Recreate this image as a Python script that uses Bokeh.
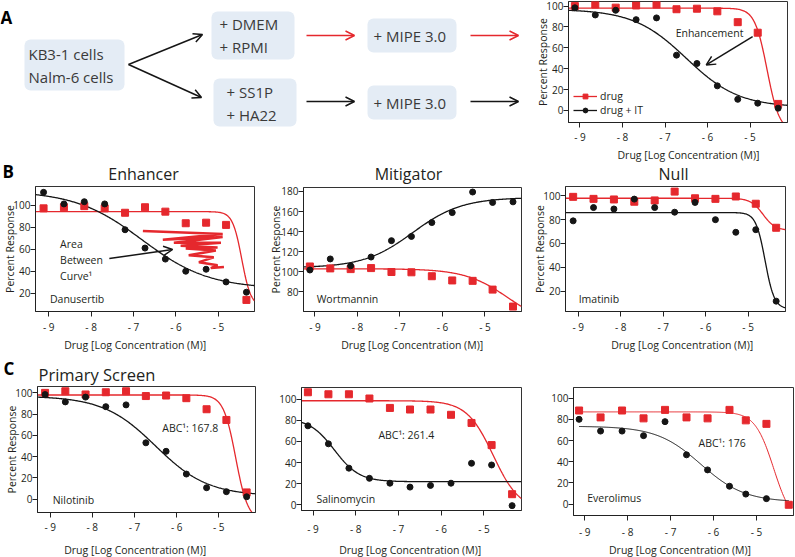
import numpy as np
from bokeh.plotting import figure
from bokeh.layouts import column, row
from bokeh.models import (Range1d, FixedTicker, Arrow, OpenHead, Label, BoxAnnotation,
                          Legend, LegendItem, CustomJSTickFormatter)
from bokeh.embed import file_html
from bokeh.resources import INLINE

# ------------------------------------------------------------------ data
LOGC = [-9.12, -8.64, -8.16, -7.68, -7.2, -6.73, -6.25, -5.77, -5.29, -4.82, -4.34]
LOGC_EVE = [-9.13, -8.63, -8.13, -7.63, -7.13, -6.63, -6.14, -5.63, -5.25, -4.77, -4.25]
X_TICKS = [-9, -8, -7, -6, -5]

nilo_drug = [100, 101.5, 98.5, 100.6, 101.5, 97, 97.5, 95, 84.6, 74.5, 6.3]
nilo_drug_it = [98.4, 91.5, 96, 87, 88.7, 53, 45, 23.6, 10.7, 7, 2.2]
danu_drug = [97, 98, 99, 97, 93, 98, 94, 83.5, 84, 82, 14]
danu_drug_it = [111.5, 101, 103, 101, 77.6, 61, 51, 40, 41.8, 30.3, 21]
wort_drug = [105.3, 103.4, 102.7, 103.7, 99.8, 99.5, 95.6, 91.4, 91, 82.3, 65.4]
wort_drug_it = [101.8, 112.8, 106, 114.7, 131, 135.2, 149, 158.9, 179.4, 169, 169.6]
imat_drug = [99.2, 97.5, 97, 95.1, 96.2, 103.6, 98, 97.5, 99.5, 93.4, 73.2]
imat_drug_it = [79, 90.2, 89, 97.3, 90.2, 86.3, 94.5, 80, 69.4, 71.6, 11.5]
sali_drug = [106.5, 104.6, 104.6, 100.6, 91.7, 90.2, 90.2, 85.2, 77.5, 56.6, 10.2]
sali_drug_it = [74.8, 57.8, 34.8, 25.2, 20.6, 16.9, 18.5, 20.6, 39.4, 37.8, -0.6]
ever_drug = [88.3, 81.8, 88.3, 80.9, 88.9, 81.8, 80.9, 88.9, 79, 75.7, -0.6]
ever_drug_it = [80, 68.9, 68.9, 64.6, 77.8, 46.5, 32.3, 16.9, 9.5, 5.2]

# Hill fits: [left plateau, right plateau, logEC50, slope]
nilo_fit_drug = [98, -20, -4.6, 3.0]
nilo_fit_drug_it = [97, 3, -6.5, 0.7]
danu_fit_drug = [94, 8, -4.45, 4.0]
danu_fit_drug_it = [113, 24, -6.8, 0.55]
wort_fit_drug = [103, 45, -4.45, 0.85]
wort_fit_drug_it = [104, 174, -6.7, 0.75]
imat_fit_drug = [98, 71, -4.65, 3.0]
imat_fit_drug_it = [86, 5, -4.6, 4.0]
sali_fit_drug = [98.5, -5, -4.78, 1.4]
sali_fit_drug_it = [82, 22, -8.5, 1.49]
ever_fit_drug = [87, -20, -4.6, 2.0]
ever_fit_drug_it = [73.5, 2, -6.3, 0.85]

# hand-drawn "area between curves" scribble (Danusertib data units)
scribble_x = [-6.78, -4.90, -6.31, -4.90, -6.05, -4.94, -5.89, -5.02, -5.77, -5.06,
              -5.70, -5.11, -5.46, -5.02, -5.18, -4.87]
scribble_y = [76.4, 73.8, 68.5, 71.1, 65.8, 65.8, 63.2, 61.4, 60.5, 58.8,
              54.4, 52.6, 48.2, 45.5, 42.9, 43.8]

# ------------------------------------------------------------------ style
FONT = "Open Sans"
RED = "#e5282d"
BLACK = "#151515"
TXT = "#231f20"
BOX = "#e4ecf5"
X_LABEL = "Drug [Log Concentration (M)]"
Y_LABEL = "Percent Response"


def hill(x, p):
    a, b, ec, h = p
    return b + (a - b) / (1 + 10 ** ((x - ec) * h))


def strip(x0, x1, y0, y1):
    """Plain drawing area addressed in page pixels (page y is stored as -y)."""
    s = figure(width=x1 - x0, height=y1 - y0, x_range=Range1d(x0, x1),
               y_range=Range1d(-y1, -y0), toolbar_location=None, output_backend="svg",
               min_border=0, title=None)
    s.axis.visible = False
    s.grid.visible = False
    s.outline_line_color = None
    return s


def stext(s, x, y, text, size="10.5px", align="left", style="normal", color=TXT):
    s.add_layout(Label(x=x, y=-y, text=text, text_font=FONT, text_font_size=size,
                       text_font_style=style, text_align=align, text_baseline="middle",
                       text_color=color))


def make_panel(fx, fy, frame, xr, yr, yticks, s1=3, ylab_standoff=None):
    fx0, fx1 = fx
    fy0, fy1 = fy
    fl, fr, ft, fb = frame
    p = figure(width=fx1 - fx0, height=fy1 - fy0, x_range=Range1d(*xr), y_range=Range1d(*yr),
               toolbar_location=None, output_backend="svg", title=None,
               min_border_left=fl - fx0, min_border_right=fx1 - fr,
               min_border_top=ft - fy0, min_border_bottom=fy1 - fb)
    p.grid.visible = False
    p.outline_line_color = "#333333"
    p.background_fill_color = "white"
    p.border_fill_color = "white"
    p.xaxis.ticker = FixedTicker(ticks=X_TICKS)
    p.xaxis.formatter = CustomJSTickFormatter(code="return '- ' + Math.abs(tick);")
    p.yaxis.ticker = FixedTicker(ticks=yticks)
    for ax in (p.xaxis[0], p.yaxis[0]):
        ax.major_tick_in = 0
        ax.major_tick_out = 5
        ax.minor_tick_in = 0
        ax.minor_tick_out = 0
        ax.axis_line_color = "#222222"
        ax.major_tick_line_color = "#222222"
        ax.major_label_text_font = FONT
        ax.major_label_text_font_size = "10px"
        ax.major_label_text_color = TXT
        ax.axis_label_text_font = FONT
        ax.axis_label_text_font_size = "10.5px"
        ax.axis_label_text_font_style = "normal"
        ax.axis_label_text_color = TXT
    p.xaxis.major_label_standoff = s1
    p.yaxis.major_label_standoff = 0
    if ylab_standoff is not None:
        p.yaxis.axis_label = Y_LABEL
        p.yaxis.axis_label_standoff = ylab_standoff
    return p


def add_series(p, xs, drug, drug_it, fit_d, fit_it, xr, curve_span=None, lw=1.3):
    lo, hi = curve_span if curve_span else xr
    xc = np.linspace(lo, hi, 300)
    rl = p.line(xc, hill(xc, fit_d), line_color=RED, line_width=lw)
    bl_ = p.line(xc, hill(xc, fit_it), line_color=BLACK, line_width=lw)
    rs = p.scatter(xs[:len(drug)], drug, marker="square", size=7, color=RED)
    bs = p.scatter(xs[:len(drug_it)], drug_it, marker="circle", size=6, color=BLACK)
    return rl, rs, bl_, bs


def note(p, x, y, text, size="10.5px"):
    p.add_layout(Label(x=x, y=y, text=text, text_font=FONT, text_font_size=size,
                       text_color=TXT, text_baseline="middle", text_align="left"))


def arrow(p, x0, y0, x1, y1, color=BLACK, size=9):
    p.add_layout(Arrow(end=OpenHead(size=size, line_width=1.5, line_color=color),
                       x_start=x0, y_start=y0, x_end=x1, y_end=y1,
                       line_width=1.5, line_color=color))


def iso(f):
    """Wrap a figure on its own so that siblings do not share frame alignment."""
    return column(f)


# ------------------------------------------------------------------ flow diagram (panel A left)
flow = strip(0, 525, 0, 146)
boxes = [(24, 124, 39, 90), (211, 294, 11, 59), (213, 296, 78, 126),
         (367, 456, 18, 52), (367, 456, 85, 119)]
for l, r, t, b in boxes:
    flow.add_layout(BoxAnnotation(left=l, right=r, top=-t, bottom=-b, fill_color=BOX,
                                  fill_alpha=1, line_color=None, border_radius=6,
                                  level="underlay"))
flow_texts = ["KB3-1 cells", "Nalm-6 cells", "+ DMEM", "+ RPMI", "+ SS1P", "+ HA22",
              "+ MIPE 3.0", "+ MIPE 3.0"]
flow_tx = [28, 28, 219, 219, 226, 226, 373, 373]
flow_ty = [53, 76, 23, 46, 91, 114, 35, 102]
for tx, ty, tt in zip(flow_tx, flow_ty, flow_texts):
    stext(flow, tx, ty, tt, size="15px", color="#3a3a3a")
stext(flow, 0, 17, "A", size="17px", style="bold", color="black")
arrow(flow, 128, -64, 202, -34)
arrow(flow, 128, -64, 201, -97)
arrow(flow, 306, -35, 354, -35, RED)
arrow(flow, 470, -35, 518, -35, RED)
arrow(flow, 306, -101, 354, -101)
arrow(flow, 470, -101, 518, -101)

# ------------------------------------------------------------------ panel A chart
XR_A = (-9.27, -4.12)
pA = make_panel((525, 795), (0, 146), (568, 787, 1, 125), XR_A, (-11.5, 104.4),
                [0, 20, 40, 60, 80, 100], s1=2, ylab_standoff=-7)
rl, rs, bl_, bs = add_series(pA, LOGC, nilo_drug, nilo_drug_it, nilo_fit_drug,
                             nilo_fit_drug_it, XR_A)
leg = Legend(items=[LegendItem(label="drug", renderers=[rl, rs]),
                    LegendItem(label="drug + IT", renderers=[bl_, bs])],
             location="bottom_left", background_fill_alpha=0, border_line_alpha=0,
             label_text_font=FONT, label_text_font_size="10.5px", label_text_color=TXT,
             glyph_width=24, glyph_height=12, label_height=12, spacing=0, padding=2,
             margin=3, label_standoff=3)
pA.add_layout(leg)
note(pA, -6.75, 74.5, "Enhancement")
arrow(pA, -4.94, 70.7, -6.03, 43.6)

# band between A and B: A's x label, "B" and the B titles
band2 = strip(0, 795, 146, 185)
stext(band2, 688, 154, X_LABEL, align="center")
stext(band2, 2, 171, "B", size="17px", style="bold", color="black")
stext(band2, 143, 173.5, "Enhancer", size="16px", align="center")
stext(band2, 408, 173.5, "Mitigator", size="16px", align="center")
stext(band2, 673, 173.5, "Null", size="16px", align="center")

# ------------------------------------------------------------------ panel B
XR_E = (-9.31, -4.15)
pE = make_panel((0, 264), (185, 336), (35, 254, 186, 313), XR_E, (3.5, 116.8),
                [20, 40, 60, 80, 100], s1=3, ylab_standoff=-7)
add_series(pE, LOGC, danu_drug, danu_drug_it, danu_fit_drug, danu_fit_drug_it, XR_E)
pE.line(scribble_x, scribble_y, line_color=RED, line_width=2.5)
note(pE, -8.97, 14.7, "Danusertib")
note(pE, -8.73, 65, "Area")
note(pE, -8.73, 50, "Between")
note(pE, -8.73, 35.6, "Curve¹")
arrow(pE, -7.57, 51.5, -6.08, 59.7)
sb_E = strip(0, 264, 336, 385)
stext(sb_E, 134.7, 344, X_LABEL, align="center")
stext(sb_E, 3, 368, "C", size="17px", style="bold", color="black")
stext(sb_E, 38, 373.5, "Primary Screen", size="16.5px")

XR_M = (-9.27, -4.14)
pM = make_panel((264, 529), (185, 336), (303, 521, 187, 313), XR_M, (60.5, 183.9),
                [80, 100, 120, 140, 160, 180], s1=3, ylab_standoff=-5)
add_series(pM, LOGC, wort_drug, wort_drug_it, wort_fit_drug, wort_fit_drug_it, XR_M)
note(pM, -8.96, 72.9, "Wortmannin")
sb_M = strip(264, 529, 336, 385)
stext(sb_M, 411.7, 344, X_LABEL, align="center")

XR_N = (-9.3, -4.12)
pN = make_panel((529, 795), (185, 336), (565, 785, 186, 313), XR_N, (2.8, 107.9),
                [20, 40, 60, 80, 100], s1=3, ylab_standoff=-7)
add_series(pN, LOGC, imat_drug, imat_drug_it, imat_fit_drug, imat_fit_drug_it, XR_N)
note(pN, -8.99, 13.2, "Imatinib")
sb_N = strip(529, 795, 336, 385)
stext(sb_N, 681.7, 344, X_LABEL, align="center")

# ------------------------------------------------------------------ panel C
XR_NI = (-9.3, -4.13)
pNi = make_panel((0, 264), (385, 536), (37, 255, 386, 512), XR_NI, (-12.6, 106),
                 [0, 20, 40, 60, 80, 100], s1=2, ylab_standoff=-7)
add_series(pNi, LOGC, nilo_drug, nilo_drug_it, nilo_fit_drug, nilo_fit_drug_it, XR_NI)
note(pNi, -8.94, -0.7, "Nilotinib")
note(pNi, -6.34, 67.3, "ABC¹: 167.8")
sb_Ni = strip(0, 264, 536, 557)
stext(sb_Ni, 134.7, 549.5, X_LABEL, align="center")

XR_S = (-9.27, -4.12)
pS = make_panel((264, 529), (385, 538), (301, 521, 387, 513), XR_S, (-5.2, 111),
                [0, 20, 40, 60, 80, 100], s1=6)
add_series(pS, LOGC, sali_drug, sali_drug_it, sali_fit_drug, sali_fit_drug_it, XR_S)
note(pS, -8.92, 5.3, "Salinomycin")
note(pS, -7.47, 66.2, "ABC¹: 261.4")
sb_S = strip(264, 529, 538, 557)
stext(sb_S, 409.7, 549.5, X_LABEL, align="center")

XR_EV = (-9.26, -4.14)
pEv = make_panel((529, 795), (385, 541), (573, 793, 387, 518), XR_EV, (-10.7, 110),
                 [0, 20, 40, 60, 80, 100], s1=4)
add_series(pEv, LOGC_EVE, ever_drug, ever_drug_it, ever_fit_drug, ever_fit_drug_it, XR_EV,
           curve_span=(LOGC_EVE[0], LOGC_EVE[-1]), lw=1.0)
note(pEv, -8.94, 6.2, "Everolimus")
note(pEv, -6.35, 57.9, "ABC¹: 176")
sb_Ev = strip(529, 795, 541, 557)
stext(sb_Ev, 679.5, 549.5, X_LABEL, align="center")

layout = column(
    row(iso(flow), iso(pA)),
    iso(band2),
    row(column(iso(pE), iso(sb_E)), column(iso(pM), iso(sb_M)), column(iso(pN), iso(sb_N))),
    row(column(iso(pNi), iso(sb_Ni)), column(iso(pS), iso(sb_S)), column(iso(pEv), iso(sb_Ev))),
)
open("out.html", "w").write(file_html(layout, INLINE))
